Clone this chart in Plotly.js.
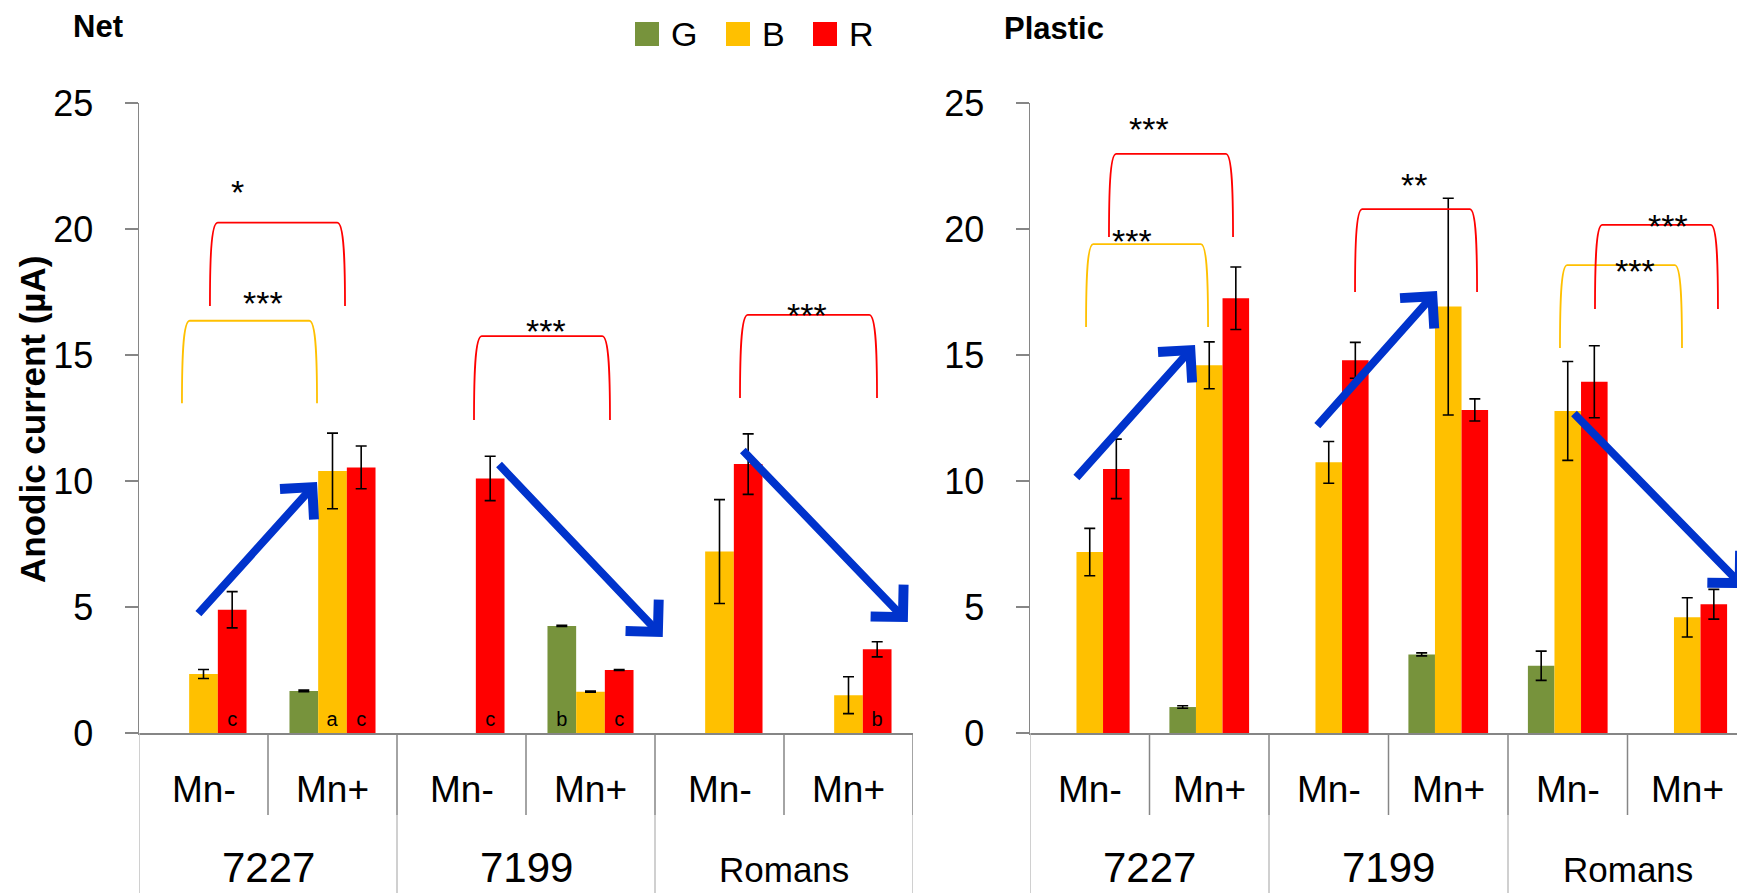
<!DOCTYPE html>
<html><head><meta charset="utf-8">
<script src="https://cdn.plot.ly/plotly-3.0.1.min.js"></script>
<style>html,body{margin:0;padding:0;background:#fff}#chart{width:1737px;height:893px}</style>
</head><body><div id="chart"></div>
<script>
// ---------- data ----------
const groups = ['7227','7227','7199','7199','Romans','Romans'];
const subgroups = ['Mn-','Mn+','Mn-','Mn+','Mn-','Mn+'];
const groupNames = ['7227','7199','Romans'];
const seriesNames = ['G','B','R'];
const seriesColors = ['#77933C','#FFC000','#FF0000'];
const panelTitles = ['Net','Plastic'];
const yTitle = 'Anodic current (µA)';

// Net panel
const netG = [null, 1.67, null, 4.25, null, null];
const netGErr = [0, 0.03, 0, 0.02, 0, 0];
const netB = [2.34, 10.4, null, 1.64, 7.2, 1.5];
const netBErr = [0.18, 1.5, 0, 0.02, 2.06, 0.73];
const netR = [4.89, 10.54, 10.1, 2.5, 10.67, 3.32];
const netRErr = [0.72, 0.85, 0.88, 0.02, 1.2, 0.3];
const netGText = ['', '', '', 'b', '', ''];
const netBText = ['', 'a', '', '', '', ''];
const netRText = ['c', 'c', 'c', 'c', '', 'b'];

// Plastic panel
const plaG = [null, 1.03, null, 3.12, 2.67, null];
const plaGErr = [0, 0.05, 0, 0.06, 0.58, 0];
const plaB = [7.18, 14.59, 10.74, 16.92, 12.78, 4.59];
const plaBErr = [0.94, 0.93, 0.83, 4.3, 1.96, 0.78];
const plaR = [10.48, 17.25, 14.79, 12.82, 13.94, 5.11];
const plaRErr = [1.18, 1.24, 0.71, 0.44, 1.43, 0.59];
const emptyText = ['', '', '', '', '', ''];

// significance brackets: [panel, leftX, rightX, topY, bottomY, series, stars, starX, starY]
const brackets = [
  [0, 0.050, 1.097, 20.25, 16.94, 2, '*', 0.264, 21.78],
  [0, -0.167, 0.880, 16.36, 13.09, 1, '***', 0.461, 17.35],
  [0, 2.097, 3.151, 15.75, 12.42, 2, '***', 2.655, 16.27],
  [0, 4.159, 5.221, 16.59, 13.29, 2, '***', 4.678, 16.90],
  [1, 0.161, 1.199, 22.98, 19.68, 2, '***', 0.496, 24.25],
  [1, -0.031, 0.990, 19.40, 16.11, 1, '***', 0.354, 19.84],
  [1, 2.220, 3.241, 20.79, 17.50, 2, '**', 2.713, 22.06],
  [1, 3.935, 4.956, 18.57, 15.28, 1, '***', 4.563, 18.65],
  [1, 4.228, 5.257, 20.16, 16.83, 2, '***', 4.839, 20.40]
];
// trend arrows: [panel, tailX, tailY, headX, headY]
const arrows = [
  [0, -0.05, 4.68, 0.88, 9.96],
  [0, 2.28, 10.71, 3.56, 3.81],
  [0, 4.17, 11.27, 5.46, 4.40],
  [1, -0.123, 10.08, 0.881, 15.40],
  [1, 1.893, 12.14, 2.906, 17.54],
  [1, 4.04, 12.74, 5.48, 5.75]
];

// ---------- layout constants ----------
const W = 1737, H = 893;
const FONT = 'Liberation Sans, Arial, sans-serif';
const py = p => 1 - p / H;
const px = p => p / W;
const yAxisBottom = py(733), yAxisTop = py(103);
const ySub = py(815);
const xIdx = subgroups.map((_, i) => i);
const axisGray = '#868686', lightGray = '#c0c0c0';

function bars(vals, errs, texts, si, xa, ya) {
  return {
    type: 'bar', x: xIdx, y: vals, name: seriesNames[si], xaxis: xa, yaxis: ya,
    marker: {color: seriesColors[si], line: {width: 0}},
    error_y: {type: 'data', array: errs, visible: true, color: '#000', thickness: 1.6, width: 5.5},
    text: texts, textposition: 'inside', insidetextanchor: 'start', textangle: 0,
    insidetextfont: {family: FONT, size: 20, color: '#000'}, constraintext: 'none',
    showlegend: false, hoverinfo: 'none'
  };
}

const data = [
  bars(netG, netGErr, netGText, 0, 'x', 'y'),
  bars(netB, netBErr, netBText, 1, 'x', 'y'),
  bars(netR, netRErr, netRText, 2, 'x', 'y'),
  bars(plaG, plaGErr, emptyText, 0, 'x2', 'y2'),
  bars(plaB, plaBErr, emptyText, 1, 'x2', 'y2'),
  bars(plaR, plaRErr, emptyText, 2, 'x2', 'y2')
];

const shapes = [];
const annotations = [];
const xrefs = ['x', 'x2'], yrefs = ['y', 'y2'];

// category axis separators and labels
[0, 1].forEach(p => {
  const xr = xrefs[p];
  for (let i = 0; i <= subgroups.length; i++) {
    const b = i - 0.5;
    const isGroup = (i === 0 || i === subgroups.length || groups[i] !== groups[i - 1]);
    shapes.push({type: 'line', xref: xr, yref: 'paper', x0: b, x1: b, y0: yAxisBottom, y1: ySub,
      line: {color: i === 0 ? lightGray : axisGray, width: 1.5}});
    if (isGroup) {
      shapes.push({type: 'line', xref: xr, yref: 'paper', x0: b, x1: b, y0: ySub, y1: 0,
        line: {color: lightGray, width: 1.5}});
    }
  }
  subgroups.forEach((s, i) => {
    annotations.push({xref: xr, yref: 'paper', x: i, y: py(789), text: s, showarrow: false,
      xanchor: 'center', yanchor: 'middle', font: {family: FONT, size: 37, color: '#000'}});
  });
  groupNames.forEach(g => {
    const idx = groups.map((v, i) => v === g ? i : -1).filter(v => v >= 0);
    const c = (idx[0] + idx[idx.length - 1]) / 2;
    annotations.push({xref: xr, yref: 'paper', x: c, y: py(g.length > 4 ? 869 : 867), text: g, showarrow: false,
      xanchor: 'center', yanchor: 'middle', font: {family: FONT, size: g.length > 4 ? 35 : 42, color: '#000'}});
  });
});

// brackets
brackets.forEach(b => {
  const [p, x0, x1, yt, yb, si, stars, sx, sy] = b;
  const dx = 0.06, h = yt - yb;
  const path = `M ${x0},${yb} C ${x0},${yt - h * 0.5} ${x0 + dx * 0.1},${yt} ${x0 + dx},${yt} ` +
               `L ${x1 - dx},${yt} C ${x1 - dx * 0.1},${yt} ${x1},${yt - h * 0.5} ${x1},${yb}`;
  shapes.push({type: 'path', xref: xrefs[p], yref: yrefs[p], path: path,
    line: {color: seriesColors[si], width: 1.8}});
  annotations.push({xref: xrefs[p], yref: yrefs[p], x: sx, y: sy - 0.3, text: stars, showarrow: false,
    xanchor: 'center', yanchor: 'middle', font: {family: FONT, size: 34, color: '#000'}});
});

// arrows
arrows.forEach(a => {
  const [p, tx, ty, hx, hy] = a;
  annotations.push({xref: xrefs[p], yref: yrefs[p], axref: xrefs[p], ayref: yrefs[p],
    x: hx, y: hy, ax: tx, ay: ty, text: '', showarrow: true, arrowhead: 4, arrowsize: 1.1,
    arrowwidth: 8, arrowcolor: '#0033CC', standoff: 0, startstandoff: 0});
});

// legend (custom)
const legendX = [635, 726, 813];
seriesNames.forEach((n, i) => {
  shapes.push({type: 'rect', xref: 'paper', yref: 'paper', x0: px(legendX[i]), x1: px(legendX[i] + 24),
    y0: py(46), y1: py(22), fillcolor: seriesColors[i], line: {width: 0}});
  annotations.push({xref: 'paper', yref: 'paper', x: px(legendX[i] + 34), y: py(34), text: n, showarrow: false,
    xanchor: 'left', yanchor: 'middle', font: {family: FONT, size: 34, color: '#000'}});
});

// panel titles
annotations.push({xref: 'paper', yref: 'paper', x: px(71), y: py(26), text: '<b>' + panelTitles[0] + '</b>',
  showarrow: false, xanchor: 'left', yanchor: 'middle', font: {family: FONT, size: 31, color: '#000'}});
annotations.push({xref: 'paper', yref: 'paper', x: px(1002), y: py(28), text: '<b>' + panelTitles[1] + '</b>',
  showarrow: false, xanchor: 'left', yanchor: 'middle', font: {family: FONT, size: 31, color: '#000'}});
// y title
annotations.push({xref: 'paper', yref: 'paper', x: px(32), y: py(420), text: '<b>' + yTitle + '</b>',
  textangle: -90, showarrow: false, xanchor: 'center', yanchor: 'middle',
  font: {family: FONT, size: 35, color: '#000'}});

const yAxisCommon = {
  range: [0, 25], dtick: 5, showgrid: false, zeroline: false, showline: true,
  linecolor: axisGray, linewidth: 1.5, ticks: 'outside', ticklen: 13, tickwidth: 1.5, tickcolor: axisGray,
  tickfont: {family: FONT, size: 36, color: '#000'}, ticklabelstandoff: 24,
  domain: [yAxisBottom, yAxisTop], fixedrange: true
};
const xAxisCommon = {
  type: 'linear', showgrid: false, zeroline: false, showline: true, linecolor: axisGray, linewidth: 1.5,
  ticks: '', showticklabels: false, fixedrange: true
};

const layout = {
  width: W, height: H, margin: {l: 0, r: 0, t: 0, b: 0},
  paper_bgcolor: '#fff', plot_bgcolor: '#fff',
  barmode: 'group', bargap: 0.333, bargroupgap: 0,
  showlegend: false, hovermode: false,
  xaxis: Object.assign({}, xAxisCommon, {domain: [px(139), px(913)], range: [-0.5, 5.5], anchor: 'y'}),
  yaxis: Object.assign({}, yAxisCommon, {anchor: 'x'}),
  xaxis2: Object.assign({}, xAxisCommon, {domain: [px(1030), 1], range: [-0.5, (W - 1030) / 119.5 - 0.5], anchor: 'y2'}),
  yaxis2: Object.assign({}, yAxisCommon, {anchor: 'x2'}),
  shapes: shapes, annotations: annotations
};

Plotly.newPlot('chart', data, layout, {staticPlot: true, displayModeBar: false});
</script>
</body></html>
